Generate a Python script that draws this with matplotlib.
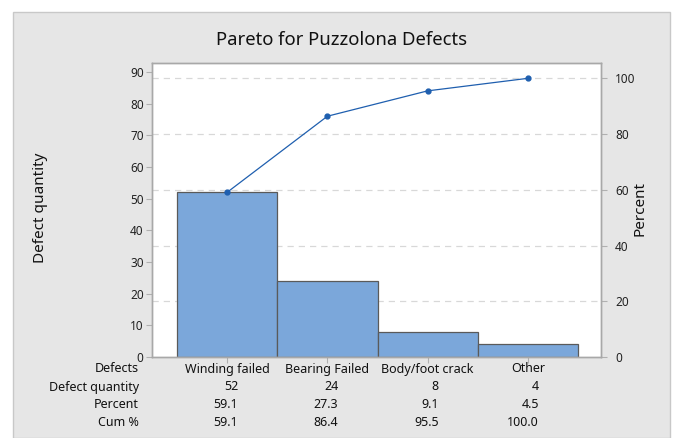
import matplotlib
matplotlib.use("Agg")
import matplotlib.pyplot as plt
from matplotlib.patches import Rectangle
from matplotlib.transforms import blended_transform_factory, offset_copy

categories = ["Winding failed", "Bearing Failed", "Body/foot crack", "Other"]
quantities = [52, 24, 8, 4]
percents = [59.1, 27.3, 9.1, 4.5]
cum_percents = [59.1, 86.4, 95.5, 100.0]
left_ticks = [0, 10, 20, 30, 40, 50, 60, 70, 80, 90]
right_ticks = [0, 20, 40, 60, 80, 100]
row_labels = ["Defects", "Defect quantity", "Percent", "Cum %"]

plt.rcParams['font.family'] = ['Noto Sans', 'DejaVu Sans']

W, H = 675, 438
fig = plt.figure(figsize=(W / 100, H / 100), dpi=100)
fig.patch.set_facecolor("white")

# gray panel
fig.patches.append(Rectangle((13 / W, 0), (670 - 13) / W, (H - 12) / H,
                             transform=fig.transFigure, facecolor="#e6e6e6",
                             edgecolor="#c8c8c8", linewidth=1, zorder=-5))

axL, axR, axT, axB = 152, 601, 63, 357
ax = fig.add_axes([axL / W, (H - axB) / H, (axR - axL) / W, (axB - axT) / H])
ax.set_facecolor("white")
total = sum(quantities)
ymax = 92.84
ax.set_ylim(0, ymax)
ax.set_xlim(-0.75, 3.73)

x = list(range(len(categories)))
ax.bar(x, quantities, width=1.0, color="#7ba7da", edgecolor="#5a5a5a",
       linewidth=0.9, zorder=2)

# gridlines at percent ticks
for t in right_ticks[1:]:
    ax.axhline(t * total / 100, color="#d8d8d8", linestyle=(0, (5, 4)),
               linewidth=0.9, zorder=1)

ax.set_yticks(left_ticks)
ax.set_yticklabels([str(v) for v in left_ticks], fontsize=8.5, color="#222222")
ax.set_xticks(x)
ax.set_xticklabels([])
ax.tick_params(axis="x", length=4, color="#b0b0b0", direction="out")
ax.tick_params(axis="y", length=4, color="#b0b0b0", pad=2)
for s in ax.spines.values():
    s.set_color("#a8a8a8")
    s.set_linewidth(1.0)

ax2 = ax.twinx()
ax2.set_ylim(0, ymax * 100 / total)
ax2.plot(x, cum_percents, color="#1f5faf", linewidth=0.9, marker="o",
         markersize=3.5, zorder=5)
ax2.set_yticks(right_ticks)
ax2.set_yticklabels([str(v) for v in right_ticks], fontsize=8.5, color="#222222")
ax2.tick_params(axis="y", length=4, color="#b0b0b0", pad=6)
for s in ax2.spines.values():
    s.set_color("#a8a8a8")
    s.set_linewidth(1.0)

fig.text(342 / W, 1 - 40 / H, "Pareto for Puzzolona Defects", ha="center",
         va="center", fontsize=13.3, color="#111111")
fig.text(40 / W, 1 - 208 / H, "Defect quantity", rotation=90, ha="center",
         va="center", fontsize=11, color="#111111")
fig.text(640 / W, 1 - 208 / H, "Percent", rotation=90, ha="center",
         va="center", fontsize=11, color="#111111")

# table below
trans = blended_transform_factory(ax.transData, fig.transFigure)
row_y = [369, 387, 405, 423]
for lab, yy in zip(row_labels, row_y):
    fig.text(139 / W, 1 - yy / H, lab, ha="right", va="center",
             fontsize=9, color="#111111")
for xi, cat in zip(x, categories):
    ax.text(xi, 1 - row_y[0] / H, cat, transform=trans, ha="center",
            va="center", fontsize=9, color="#111111")
tr_off = offset_copy(trans, fig=fig, x=11, units="dots")
for row, vals in zip(row_y[1:], [[str(q) for q in quantities],
                                  [f"{p:.1f}" for p in percents],
                                  [f"{c:.1f}" for c in cum_percents]]):
    for xi, v in zip(x, vals):
        ax.text(xi, 1 - row / H, v, transform=tr_off, ha="right",
                va="center", fontsize=9, color="#111111")

fig.savefig("out.png", dpi=100)
